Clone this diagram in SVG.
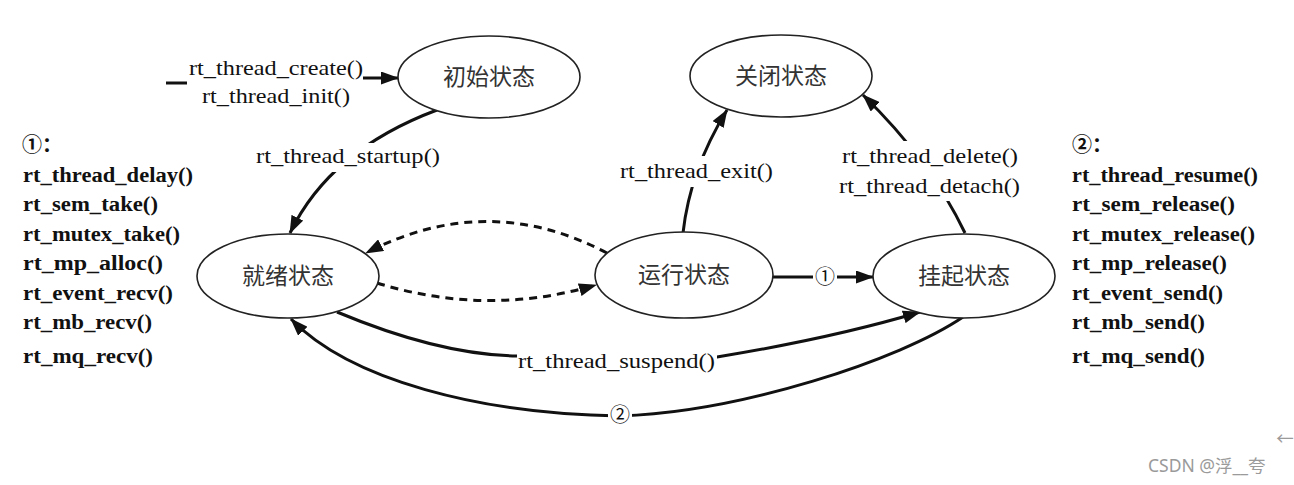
<svg xmlns="http://www.w3.org/2000/svg" width="1294" height="485" viewBox="0 0 1294 485">
<style>
.st{fill:#fff;stroke:#222;stroke-width:1.6}
.sl{font-family:"Noto Sans CJK SC","Noto Sans",sans-serif;font-size:23px;fill:#333;text-anchor:middle}
.e{fill:none;stroke:#111;stroke-width:3}
.d{fill:none;stroke:#111;stroke-width:3;stroke-dasharray:8 6}
.lb{font-family:'Liberation Serif','DejaVu Serif',serif;font-size:21px;fill:#111}
.ls{font-family:'Liberation Serif','DejaVu Serif',serif;font-size:20px;font-weight:bold;fill:#111}
.cn{font-family:"Noto Sans CJK SC","DejaVu Sans",sans-serif;font-size:20px;fill:#111;text-anchor:middle}
.bg{fill:#fff}
.wm{font-family:"Noto Sans","Noto Sans CJK SC",sans-serif;font-size:17.5px;fill:#9a9a9a}
</style>
<defs>
<marker id="ah" viewBox="0 0 18 13" refX="17" refY="6.5" markerWidth="18" markerHeight="13" markerUnits="userSpaceOnUse" orient="auto">
<path d="M0,0 L18,6.5 L0,13 Z" fill="#111"/>
</marker>
</defs>
<rect width="1294" height="485" fill="#fff"/>

<g id="connectors">
<path class="e" d="M166,83 L187,83"/>
<path class="e" d="M363,78 L398,78" marker-end="url(#ah)"/>
<path class="e" d="M437,110 Q330,150 290,233" marker-end="url(#ah)"/>
<path class="e" d="M683,233 Q690,170 727,110" marker-end="url(#ah)"/>
<path class="e" d="M965,233 Q930,160 863,95" marker-end="url(#ah)"/>
<path class="d" d="M607,253 Q487,190 366,253" marker-end="url(#ah)"/>
<path class="d" d="M377,283 Q487,317 596,285" marker-end="url(#ah)"/>
<path class="e" d="M773,277 L873,277" marker-end="url(#ah)"/>
<path class="e" d="M337,312 C380,330 450,355 517,356 L717,357 C790,345 860,330 920,312" marker-end="url(#ah)"/>
<path class="e" d="M963,317 C900,360 740,412 620,416 C480,414 350,380 291,319" marker-end="url(#ah)"/>
<rect class="bg" x="254" y="143" width="188" height="29"/>
<text class="lb" x="256" y="163" textLength="184" lengthAdjust="spacingAndGlyphs">rt_thread_startup()</text>
<rect class="bg" x="618" y="156" width="157" height="31"/>
<text class="lb" x="620" y="178" textLength="153" lengthAdjust="spacingAndGlyphs">rt_thread_exit()</text>
<rect class="bg" x="836" y="141" width="186" height="60"/>
<text class="lb" x="842" y="163" textLength="176" lengthAdjust="spacingAndGlyphs">rt_thread_delete()</text>
<text class="lb" x="839" y="193" textLength="181" lengthAdjust="spacingAndGlyphs">rt_thread_detach()</text>
<rect class="bg" x="517" y="346" width="200" height="28"/>
<text class="lb" x="518" y="368" textLength="197" lengthAdjust="spacingAndGlyphs">rt_thread_suspend()</text>
<text class="lb" x="189" y="75" textLength="174" lengthAdjust="spacingAndGlyphs">rt_thread_create()</text>
<text class="lb" x="202" y="103" textLength="148" lengthAdjust="spacingAndGlyphs">rt_thread_init()</text>
<rect class="bg" x="813" y="264" width="24" height="26"/>
<text class="cn" x="825" y="284">①</text>
<rect class="bg" x="608" y="402" width="24" height="26"/>
<text class="cn" x="620" y="422">②</text>
</g>

<g id="node-init">
<ellipse class="st" cx="489" cy="77" rx="91" ry="41"/>
<text class="sl" x="489" y="85">初始状态</text>
</g>
<g id="node-close">
<ellipse class="st" cx="781" cy="76" rx="91" ry="41"/>
<text class="sl" x="781" y="84">关闭状态</text>
</g>
<g id="node-ready">
<ellipse class="st" cx="288" cy="276" rx="91" ry="42"/>
<text class="sl" x="288" y="284">就绪状态</text>
</g>
<g id="node-running">
<ellipse class="st" cx="684" cy="275" rx="89" ry="43"/>
<text class="sl" x="684" y="283">运行状态</text>
</g>
<g id="node-suspend">
<ellipse class="st" cx="964" cy="276" rx="91" ry="42"/>
<text class="sl" x="964" y="284">挂起状态</text>
</g>

<g id="list-1">
<text class="cn" x="22" y="152" style="text-anchor:start;font-weight:bold">①：</text>
<text class="ls" x="23" y="182" textLength="170" lengthAdjust="spacingAndGlyphs">rt_thread_delay()</text>
<text class="ls" x="23" y="211" textLength="135" lengthAdjust="spacingAndGlyphs">rt_sem_take()</text>
<text class="ls" x="23" y="241" textLength="157" lengthAdjust="spacingAndGlyphs">rt_mutex_take()</text>
<text class="ls" x="23" y="270" textLength="140" lengthAdjust="spacingAndGlyphs">rt_mp_alloc()</text>
<text class="ls" x="23" y="300" textLength="150" lengthAdjust="spacingAndGlyphs">rt_event_recv()</text>
<text class="ls" x="23" y="329" textLength="129" lengthAdjust="spacingAndGlyphs">rt_mb_recv()</text>
<text class="ls" x="23" y="363" textLength="130" lengthAdjust="spacingAndGlyphs">rt_mq_recv()</text>
</g>

<g id="list-2">
<text class="cn" x="1072" y="152" style="text-anchor:start;font-weight:bold">②：</text>
<text class="ls" x="1072" y="182" textLength="186" lengthAdjust="spacingAndGlyphs">rt_thread_resume()</text>
<text class="ls" x="1072" y="211" textLength="163" lengthAdjust="spacingAndGlyphs">rt_sem_release()</text>
<text class="ls" x="1072" y="241" textLength="183" lengthAdjust="spacingAndGlyphs">rt_mutex_release()</text>
<text class="ls" x="1072" y="270" textLength="155" lengthAdjust="spacingAndGlyphs">rt_mp_release()</text>
<text class="ls" x="1072" y="300" textLength="151" lengthAdjust="spacingAndGlyphs">rt_event_send()</text>
<text class="ls" x="1072" y="329" textLength="133" lengthAdjust="spacingAndGlyphs">rt_mb_send()</text>
<text class="ls" x="1072" y="363" textLength="133" lengthAdjust="spacingAndGlyphs">rt_mq_send()</text>
</g>

<g id="watermark">
<text class="wm" x="1285" y="445" style="text-anchor:middle">←</text>
<text class="wm" x="1148" y="472">CSDN @浮__夸</text>
</g>
</svg>
